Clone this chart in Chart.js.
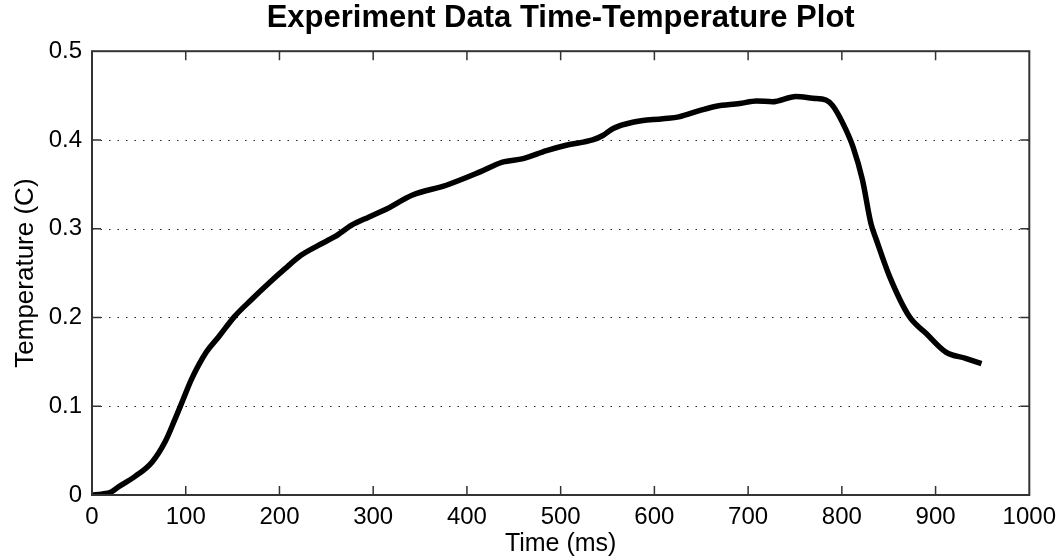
<!DOCTYPE html>
<html>
<head>
<meta charset="utf-8">
<script src="https://cdn.jsdelivr.net/npm/chart.js@4"></script>
<style>
  html, body { margin: 0; padding: 0; background: #fff; }
  #wrap { width: 1064px; height: 560px; }
</style>
</head>
<body>
<div id="wrap"><canvas id="myChart" width="1064" height="560"></canvas></div>
<script>
// time (ms) and temperature (C)
const timeMs = [0, 10, 20, 28, 46, 64, 78, 88, 97, 106, 122, 135, 152, 170, 188, 206, 223, 241, 259, 277,
  295, 312, 342, 378, 414, 438, 460, 485, 506, 534, 545, 556, 577, 609, 626, 648, 666, 691, 709, 726,
  751, 769, 783, 790, 801, 812, 822, 831, 837, 851, 872, 890, 911, 932, 949];
const tempC = [0, 0.001, 0.003, 0.009, 0.021, 0.037, 0.060, 0.084, 0.107, 0.130, 0.161, 0.178, 0.201, 0.220, 0.238, 0.255, 0.270, 0.281, 0.291, 0.304,
  0.313, 0.321, 0.338, 0.349, 0.364, 0.375, 0.379, 0.388, 0.394, 0.400, 0.405, 0.413, 0.420, 0.424, 0.426, 0.433, 0.438, 0.441, 0.444, 0.443,
  0.449, 0.447, 0.445, 0.439, 0.419, 0.392, 0.355, 0.306, 0.287, 0.246, 0.201, 0.182, 0.161, 0.154, 0.148];
const xTicks = [0, 100, 200, 300, 400, 500, 600, 700, 800, 900, 1000];
const yTicks = [0, 0.1, 0.2, 0.3, 0.4, 0.5];

const points = timeMs.map((t, i) => ({ x: t, y: tempC[i] }));
const FONT = 'Liberation Sans, Arial, sans-serif';

// box round the plot, inward tick marks and dotted grid (matlab look)
const boxPlugin = {
  id: 'box',
  beforeDatasetsDraw(chart) {
    const { ctx, chartArea: a, scales } = chart;
    ctx.save();
    ctx.strokeStyle = '#222';
    ctx.lineWidth = 1;
    ctx.setLineDash([1.5, 7]);
    yTicks.slice(1, -1).forEach(v => {
      const y = Math.round(scales.y.getPixelForValue(v)) + 0.5;
      ctx.beginPath();
      ctx.moveTo(a.left, y);
      ctx.lineTo(a.right, y);
      ctx.stroke();
    });
    ctx.restore();
  },
  afterDraw(chart) {
    const { ctx, chartArea: a, scales } = chart;
    ctx.save();
    ctx.strokeStyle = '#333';
    ctx.lineWidth = 2;
    ctx.strokeRect(a.left, a.top, a.right - a.left, a.bottom - a.top);
    ctx.lineWidth = 1.5;
    const len = 9;
    xTicks.slice(1, -1).forEach(v => {
      const x = scales.x.getPixelForValue(v);
      ctx.beginPath();
      ctx.moveTo(x, a.bottom); ctx.lineTo(x, a.bottom - len);
      ctx.moveTo(x, a.top); ctx.lineTo(x, a.top + len);
      ctx.stroke();
    });
    yTicks.slice(1, -1).forEach(v => {
      const y = scales.y.getPixelForValue(v);
      ctx.beginPath();
      ctx.moveTo(a.left, y); ctx.lineTo(a.left + len, y);
      ctx.moveTo(a.right, y); ctx.lineTo(a.right - len, y);
      ctx.stroke();
    });
    ctx.restore();
  }
};

const ctx = document.getElementById('myChart').getContext('2d');
const myChart = new Chart(ctx, {
  type: 'line',
  data: {
    datasets: [{
      data: points,
      borderColor: '#000',
      borderWidth: 5.5,
      pointRadius: 0,
      cubicInterpolationMode: 'monotone',
      fill: false
    }]
  },
  options: {
    responsive: false,
    animation: false,
    layout: { padding: { left: 0, right: 34, top: 0, bottom: 0 } },
    plugins: {
      legend: { display: false },
      tooltip: { enabled: false },
      title: {
        display: true,
        fullSize: false,
        text: 'Experiment Data Time-Temperature Plot',
        color: '#000',
        font: { family: FONT, size: 31, weight: 'bold', lineHeight: 1.2 },
        padding: { top: 0, bottom: 14 }
      }
    },
    scales: {
      x: {
        type: 'linear',
        min: 0,
        max: 1000,
        afterFit: s => { s.height = 65; },
        afterBuildTicks: s => { s.ticks = xTicks.map(v => ({ value: v })); },
        grid: { display: false, drawTicks: false },
        border: { display: false },
        ticks: {
          color: '#000',
          padding: 8,
          maxRotation: 0,
          callback: v => String(v),
          font: { family: FONT, size: 24 }
        },
        title: {
          display: true,
          text: 'Time (ms)',
          color: '#000',
          font: { family: FONT, size: 25 },
          padding: { top: 0, bottom: 1 }
        }
      },
      y: {
        min: 0,
        max: 0.5,
        afterFit: s => { s.width = 92; },
        afterBuildTicks: s => { s.ticks = yTicks.map(v => ({ value: v })); },
        grid: { display: false, drawTicks: false },
        border: { display: false },
        ticks: {
          color: '#000',
          padding: 10,
          callback: v => String(v),
          font: { family: FONT, size: 24 }
        },
        title: {
          display: true,
          text: 'Temperature (C)',
          color: '#000',
          font: { family: FONT, size: 26 },
          padding: { top: 10, bottom: 0 }
        }
      }
    }
  },
  plugins: [boxPlugin]
});
</script>
</body>
</html>
